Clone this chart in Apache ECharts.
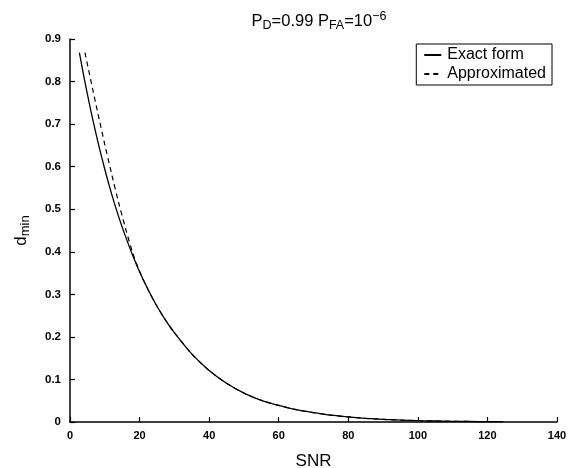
<!DOCTYPE html>
<html>
<head>
<meta charset="utf-8">
<script src="https://cdn.jsdelivr.net/npm/echarts@6/dist/echarts.min.js"></script>
<style>html,body{margin:0;padding:0;background:#fff}#c{width:570px;height:468px}</style>
</head>
<body>
<div id="c"></div>
<script>
var exactX = [2.7, 4, 6, 8, 10, 12, 14, 16, 18, 20, 22.5, 25, 27.5, 30, 35, 40, 45, 50, 55, 60, 65, 70, 75, 80, 85, 90, 95, 100, 105, 110, 115, 120, 124.5];
var exactY = [0.868, 0.811, 0.731, 0.659, 0.594, 0.535, 0.482, 0.435, 0.392, 0.353, 0.310, 0.272, 0.239, 0.210, 0.160, 0.121, 0.091, 0.068, 0.051, 0.039, 0.029, 0.022, 0.016, 0.012, 0.0085, 0.006, 0.0045, 0.0032, 0.0023, 0.0016, 0.0012, 0.0009, 0.0007];
var approxX = [4.3, 6, 8, 10, 12, 14, 16, 18, 20, 22.5, 25, 27.5, 30, 35, 40, 45, 50, 55, 60, 65, 70, 75, 80, 85, 90, 95, 100, 105, 110, 115, 120, 124.5];
var approxY = [0.868, 0.802, 0.726, 0.652, 0.582, 0.515, 0.454, 0.398, 0.354, 0.310, 0.272, 0.239, 0.210, 0.160, 0.121, 0.091, 0.068, 0.051, 0.039, 0.029, 0.022, 0.016, 0.012, 0.0085, 0.006, 0.0045, 0.0032, 0.0023, 0.0016, 0.0012, 0.0009, 0.0007];
var xTicks = [0, 20, 40, 60, 80, 100, 120, 140];
var yTicks = [0, 0.1, 0.2, 0.3, 0.4, 0.5, 0.6, 0.7, 0.8, 0.9];
var seriesNames = ['Exact form', 'Approximated'];

function pairs(xs, ys) { return xs.map(function (x, i) { return [x, ys[i]]; }); }

var FONT = 'Liberation Sans, Arial, Helvetica, sans-serif';
var chart = echarts.init(document.getElementById('c'), null, {renderer: 'canvas'});
chart.setOption({
  backgroundColor: '#fff',
  animation: false,
  title: {
    text: 'P{sub|D}=0.99 P{sub|FA}=10{sup|−6}',
    left: 314, top: 5, textAlign: 'center',
    textStyle: {
      fontFamily: FONT, fontSize: 16.5, fontWeight: 'normal', color: '#000',
      rich: {
        sub: {fontFamily: FONT, fontSize: 12.5, color: '#000', verticalAlign: 'bottom', padding: [9, 0, 0, 0]},
        sup: {fontFamily: FONT, fontSize: 12.5, color: '#000', verticalAlign: 'top', padding: [0, 0, 8, 0]}
      }
    }
  },
  legend: {
    orient: 'vertical', right: 18, top: 44,
    data: [seriesNames[0], seriesNames[1]],
    borderColor: '#000', borderWidth: 1, padding: [3, 6, 3, 7],
    itemGap: 3, itemWidth: 17, itemHeight: 14,
    itemStyle: {opacity: 0},
    textStyle: {fontFamily: FONT, fontSize: 16, color: '#000', padding: [0, 0, 0, 1]}
  },
  grid: {left: 70, right: 13, top: 39, bottom: 46, outerBoundsMode: 'none', containLabel: false},
  xAxis: {
    type: 'value', min: 0, max: 140, interval: 20,
    name: 'SNR', nameLocation: 'middle', nameGap: 31,
    nameTextStyle: {fontFamily: FONT, fontSize: 17, color: '#000'},
    axisLine: {lineStyle: {color: '#000', width: 1.5}},
    axisTick: {inside: true, length: 5, lineStyle: {color: '#000', width: 1.2}},
    axisLabel: {fontFamily: FONT, fontSize: 11, fontWeight: 'bold', color: '#000', margin: 8,
      formatter: function (v) { return xTicks.indexOf(v) >= 0 ? String(v) : ''; }},
    splitLine: {show: false}
  },
  yAxis: {
    type: 'value', min: 0, max: 0.9, interval: 0.1,
    name: 'd{sub|min}', nameLocation: 'middle', nameGap: 38, nameRotate: 90,
    nameTextStyle: {fontFamily: FONT, fontSize: 17, color: '#000',
      rich: {sub: {fontFamily: FONT, fontSize: 13, color: '#000', verticalAlign: 'bottom', padding: [8, 0, 0, 0]}}},
    axisLine: {show: true, lineStyle: {color: '#000', width: 1.5}},
    axisTick: {show: true, inside: true, length: 5, lineStyle: {color: '#000', width: 1.2}},
    axisLabel: {fontFamily: FONT, fontSize: 11.5, fontWeight: 'bold', color: '#000', margin: 9,
      formatter: function (v) {
        var r = Math.round(v * 10) / 10;
        return r === 0 ? '0' : r.toFixed(1);
      }},
    splitLine: {show: false}
  },
  series: [
    {
      name: seriesNames[0], type: 'line', data: pairs(exactX, exactY),
      smooth: 0.3, symbol: 'none', showSymbol: false,
      lineStyle: {color: '#000', width: 1.3, type: 'solid'},
      itemStyle: {color: '#000'}
    },
    {
      name: seriesNames[1], type: 'line', data: pairs(approxX, approxY),
      smooth: 0.3, symbol: 'none', showSymbol: false,
      lineStyle: {color: '#000', width: 1.2, type: [5, 4]},
      itemStyle: {color: '#000'}
    }
  ]
});
</script>
</body>
</html>
